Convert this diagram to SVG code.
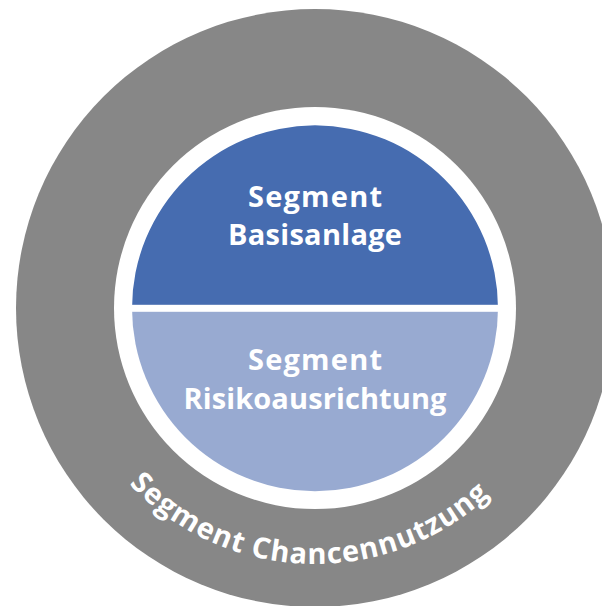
<svg xmlns="http://www.w3.org/2000/svg" width="602" height="606" viewBox="0 0 602 606">
  <style>
    .lbl { font-family: "Open Sans", "Liberation Sans", sans-serif; font-weight: 700; fill: #ffffff; }
    .inner { font-size: 29px; text-anchor: middle; }
    .ring { font-size: 29px; }
  </style>
  <defs>
    <path id="ringPath" d="M 59 308 A 256 256 0 0 0 571 308"/>
  </defs>
  <rect x="0" y="0" width="602" height="606" fill="#ffffff"/>
  <g id="chancennutzung">
    <circle cx="315" cy="308" r="299" fill="#878787"/>
    <circle cx="315" cy="308" r="201" fill="#ffffff"/>
    <text class="lbl ring"><textPath href="#ringPath" startOffset="394" text-anchor="middle" textLength="400" lengthAdjust="spacing">Segment Chancennutzung</textPath></text>
  </g>
  <g id="basisanlage">
    <path d="M 132 308.3 A 183 183 0 0 1 498 308.3 Z" fill="#466CB0"/>
    <text class="lbl inner" x="315" y="207" textLength="134" lengthAdjust="spacing">Segment</text>
    <text class="lbl inner" x="315" y="245" textLength="174" lengthAdjust="spacing">Basisanlage</text>
  </g>
  <g id="risikoausrichtung">
    <path d="M 132 308.3 A 183 183 0 0 0 498 308.3 Z" fill="#98AAD1"/>
    <text class="lbl inner" x="315" y="370" textLength="134" lengthAdjust="spacing">Segment</text>
    <text class="lbl inner" x="315" y="409" textLength="263" lengthAdjust="spacing">Risikoausrichtung</text>
  </g>
  <rect id="divider" x="128" y="304.8" width="374" height="7" fill="#ffffff"/>
</svg>
